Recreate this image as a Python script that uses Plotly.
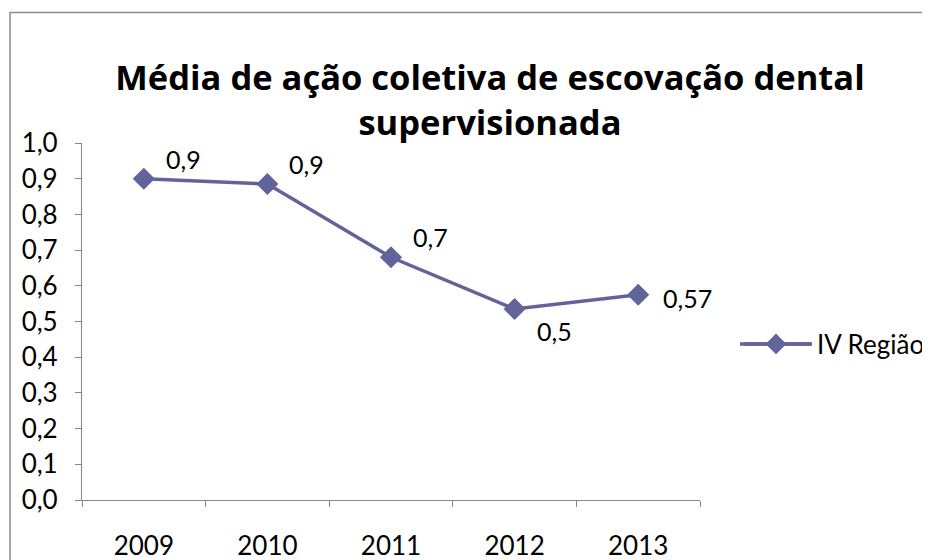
import plotly.graph_objects as go

years = ["2009", "2010", "2011", "2012", "2013"]
values = [0.9, 0.885, 0.68, 0.535, 0.575]
label_text = ["0,9", "0,9", "0,7", "0,5", "0,57"]
label_pos = ["top right", "top right", "top right", "bottom right", "middle right"]
y_ticks = [0.0, 0.1, 0.2, 0.3, 0.4, 0.5, 0.6, 0.7, 0.8, 0.9, 1.0]
y_tick_text = ["0,0", "0,1", "0,2", "0,3", "0,4", "0,5", "0,6", "0,7", "0,8", "0,9", "1,0"]
series_name = "IV Região"
title_text = "<b>Média de ação coletiva de escovação dental<br>supervisionada</b>"

color = "#62639B"
font_family = "Lato, 'Open Sans', sans-serif"
title_family = "'Open Sans', sans-serif"

OFF = 8  # default page body margin
W, H = 930 - OFF, 560 - OFF

def fx(x):
    return x - OFF

def fy(y):
    return y - OFF

ml = fx(82)
mr = W - fx(700)
mt = fy(143)
mb = H - fy(500)
pw, ph = W - ml - mr, H - mt - mb

def paper_x(x):
    return (fx(x) - ml) / pw

def paper_y(y):
    return (H - mb - fy(y)) / ph

fig = go.Figure()
fig.add_trace(go.Scatter(
    x=years, y=values, mode="lines+markers",
    name=series_name,
    line=dict(color=color, width=3.5),
    marker=dict(symbol="diamond", size=17, color=color),
))

# data labels placed relative to each point (Excel-style offsets)
shift_for = {"top right": (20, 20), "bottom right": (20, -22), "middle right": (23, -3)}
for i, (yv, t, pos) in enumerate(zip(values, label_text, label_pos)):
    dx, dy = shift_for[pos]
    fig.add_annotation(x=i, y=yv, xref="x", yref="y", text=t, showarrow=False,
                       xanchor="left", yanchor="middle", xshift=dx, yshift=dy,
                       font=dict(size=25, family=font_family, color="#000000"))

# chart-area border
fig.add_shape(type="rect", xref="paper", yref="paper",
              x0=paper_x(10), x1=paper_x(990), y0=paper_y(12.5), y1=paper_y(640),
              line=dict(color="#8C8C8C", width=1.5), fillcolor="rgba(0,0,0,0)")
# longer legend line (Excel style)
fig.add_shape(type="line", xref="paper", yref="paper",
              x0=paper_x(744), x1=paper_x(811), y0=paper_y(344), y1=paper_y(344),
              line=dict(color=color, width=3.5))

fig.update_layout(
    width=W, height=H,
    margin=dict(l=ml, r=mr, t=mt, b=mb, autoexpand=False),
    paper_bgcolor="white", plot_bgcolor="white",
    font=dict(family=font_family, size=25, color="#000000"),
    title=dict(text=title_text, xref="container", x=fx(490) / W, xanchor="center",
               yref="container", y=1 - fy(90) / H, yanchor="top",
               font=dict(size=34.5, family=title_family, color="#000000")),
    showlegend=True,
    legend=dict(x=paper_x(735), y=paper_y(344), xanchor="left", yanchor="middle",
                font=dict(size=26, family=font_family), bgcolor="rgba(0,0,0,0)",
                itemwidth=72),
    xaxis=dict(type="category", showgrid=False, showline=True,
               linecolor="#868686", linewidth=1.2,
               ticks="outside", ticklen=6, tickcolor="#868686",
               tickson="boundaries", ticklabelstandoff=23,
               tickfont=dict(size=26), range=[-0.5, 4.5], automargin=False),
    yaxis=dict(range=[0, 1.0], tickvals=y_ticks, ticktext=y_tick_text,
               showgrid=False, showline=True, linecolor="#868686", linewidth=1.2,
               ticks="outside", ticklen=6, tickcolor="#868686",
               ticklabelstandoff=12, zeroline=False, automargin=False,
               tickfont=dict(size=26)),
)

fig.write_html("out.html")
